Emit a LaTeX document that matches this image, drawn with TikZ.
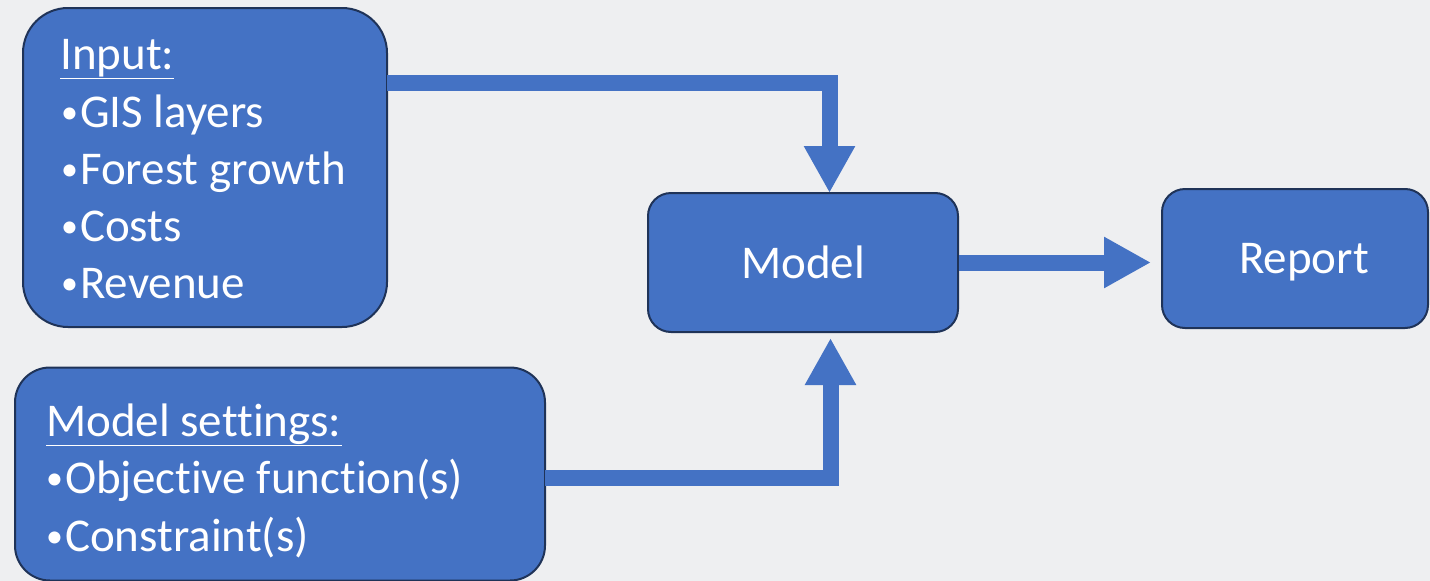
\documentclass[tikz,border=0pt]{standalone}
\usepackage{fontspec}
\setmainfont{Carlito}[Ligatures = NoCommon]
\usepackage{xcolor}
\usepackage{tikz}
\usetikzlibrary{arrows.meta}

\definecolor{boxblue}{HTML}{4472C4}
\definecolor{boxedge}{HTML}{1F3358}
\definecolor{backgr}{HTML}{EEEFF1}
\newcommand{\bul}{{\fontsize{34}{34}\selectfont\raisebox{4pt}{•}}\hspace{2pt}}

\begin{document}
\begin{tikzpicture}[x=1pt, y=-1pt,
        box/.style = {draw = boxedge, line width = 2pt, fill = boxblue, rectangle, inner sep = 0pt},
        txt/.style = {text = white, font = \fontsize{47}{56}\selectfont, inner sep = 0pt, anchor = base west},
        flow/.style = {draw = boxblue, line width = 16pt, line join = miter, -{Triangle[width = 48pt, length = 47pt]}}]
        \fill [backgr] (0, 0) rectangle (1430, 581);
        \useasboundingbox (0, 0) rectangle (1430, 581);
        % boxes
        \node (input) at (205, 167.5) [box, rounded corners = 45pt, minimum width = 364pt, minimum height = 319pt] {};
        \node (settings) at (280, 474) [box, rounded corners = 35pt, minimum width = 530pt, minimum height = 213pt] {};
        \node (model) at (803, 262.5) [box, rounded corners = 23pt, minimum width = 310pt, minimum height = 139pt] {};
        \node (report) at (1295, 258.5) [box, rounded corners = 23pt, minimum width = 266pt, minimum height = 139pt] {};
        % texts
        \node (in0) at (60, 69) [txt] {\underline{Input:}};
        \node (in1) at (61, 127) [txt] {\bul GIS layers};
        \node (in2) at (61, 184) [txt] {\bul Forest growth};
        \node (in3) at (61, 241) [txt] {\bul Costs};
        \node (in4) at (61, 298) [txt] {\bul Revenue};
        \node (set0) at (46, 436) [txt] {\underline{Model settings:}};
        \node (set1) at (46, 493) [txt] {\bul Objective function(s)};
        \node (set2) at (46, 551) [txt] {\bul Constraint(s)};
        \node (modeltxt) at (model) [txt, anchor = center] {Model};
        \node (reporttxt) at (1304, 262) [txt, anchor = center] {Report};
        % connectors
        \coordinate (inout) at (387, 83);
        \coordinate (inend) at (829.5, 193);
        \coordinate (setout) at (545, 478);
        \coordinate (setend) at (830.5, 338);
        \draw [flow] (inout) -| (inend);
        \draw [flow] (setout) -| (setend);
        \draw [flow, shorten > = 10pt] (model.east) -- (model.east -| report.west);
    \end{tikzpicture}
\end{document}
